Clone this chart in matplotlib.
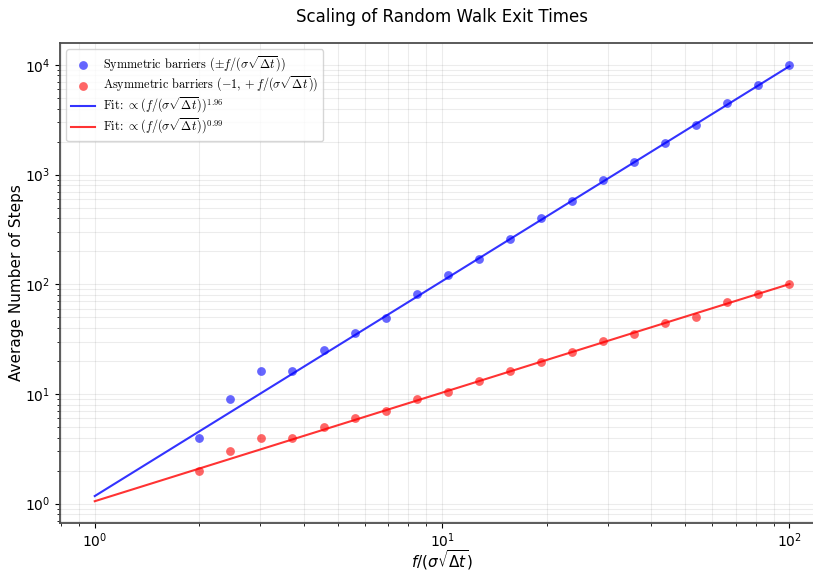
import numpy as np
import matplotlib
matplotlib.use("Agg")
import matplotlib.pyplot as plt
from matplotlib.font_manager import FontProperties

# scaled barrier distance f/(sigma*sqrt(dt))
x_vals = np.logspace(np.log10(2), 2, 20)

sym_steps = [4, 9, 16, 16, 25, 36, 49, 81, 121, 169, 256, 400, 576, 900,
             1296, 1936, 2809, 4489, 6561, 10000]
asym_steps = [2, 3, 4, 4, 5, 6, 7, 9, 10.5, 13, 16, 19.5, 24, 30.5,
              35.5, 44, 50, 69, 81, 100]

# power-law fits: a * x**b
sym_fit = (1.17, 1.96)
asym_fit = (1.05, 0.99)

fig = plt.figure(figsize=(8.13, 5.71), dpi=100)
ax = fig.add_axes([0.0738, 0.084, 0.94, 0.8406])

lbl = r"(f/(\sigma\sqrt{\Delta t}))"
ax.scatter(x_vals, sym_steps, s=40, color="blue", alpha=0.6, linewidths=0,
           label=r"Symmetric barriers $(\pm f/(\sigma\sqrt{\Delta t}))$", zorder=3)
ax.scatter(x_vals, asym_steps, s=40, color="red", alpha=0.6, linewidths=0,
           label=r"Asymmetric barriers $(-1, +f/(\sigma\sqrt{\Delta t}))$", zorder=3)

x_fit = np.logspace(0, 2, 100)
ax.plot(x_fit, sym_fit[0] * x_fit ** sym_fit[1], color="blue", alpha=0.8, lw=1.5,
        label=r"Fit: $\propto " + lbl + "^{%.2f}$" % sym_fit[1])
ax.plot(x_fit, asym_fit[0] * x_fit ** asym_fit[1], color="red", alpha=0.8, lw=1.5,
        label=r"Fit: $\propto " + lbl + "^{%.2f}$" % asym_fit[1])

ax.set_xscale("log")
ax.set_yscale("log")
ax.grid(True, which="both", color="gray", alpha=0.15, lw=0.8)
for s in ax.spines.values():
    s.set_color("0.3")
    s.set_linewidth(1.3)
ax.tick_params(axis="x", which="major", pad=2.5)

ax.set_xlabel(r"$f/(\sigma\sqrt{\Delta t})$", fontsize=11, labelpad=-1)
ax.set_ylabel("Average Number of Steps", fontsize=11, labelpad=1)
ax.set_title("Scaling of Random Walk Exit Times", fontsize=12, pad=15)

fp = FontProperties(family="cmr10", size=8.8, math_fontfamily="cm")
ax.legend(loc="upper left", prop=fp, labelspacing=0.12, handletextpad=0.6)

fig.savefig("out.png", dpi=100)
